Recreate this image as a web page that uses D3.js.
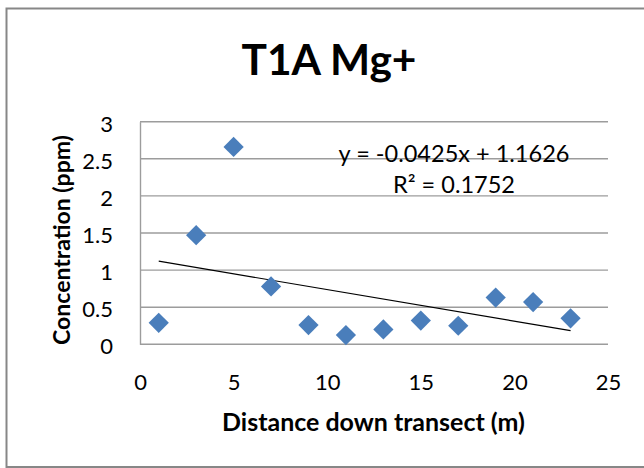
<!DOCTYPE html>
<html>
<head>
<meta charset="utf-8">
<script src="https://cdn.jsdelivr.net/npm/d3@7"></script>
<style>
  html, body { margin: 0; padding: 0; background: #fff; }
  svg { display: block; }
  text { font-family: Lato, "Open Sans", sans-serif; fill: #000; }
</style>
</head>
<body>
<svg id="chart" width="644" height="468"></svg>
<script>
// ---- data ----
const distances = [1, 3, 5, 7, 9, 11, 13, 15, 17, 19, 21, 23];
const concentrations = [0.29, 1.47, 2.66, 0.78, 0.26, 0.125, 0.20, 0.32, 0.25, 0.63, 0.57, 0.35];
const xTicks = [0, 5, 10, 15, 20, 25];
const yTicks = [0, 0.5, 1, 1.5, 2, 2.5, 3];
const trendSlope = -0.0425;
const trendIntercept = 1.1626;
const trendRange = [1, 23];
const titleText = "T1A Mg+";
const xAxisTitle = "Distance down transect (m)";
const yAxisTitle = "Concentration (ppm)";
const equationText = "y = -0.0425x + 1.1626";
const r2Text = "R\u00B2 = 0.1752";

// ---- layout ----
const svg = d3.select("#chart");
const plot = { left: 140, right: 608, top: 121.7, bottom: 344.3 };
const x = d3.scaleLinear().domain([0, 25]).range([plot.left, plot.right]);
const y = d3.scaleLinear().domain([0, 3]).range([plot.bottom, plot.top]);

function fitWidth(sel, target) {
  const node = sel.node();
  const fs = parseFloat(sel.attr("font-size"));
  const w = node.getComputedTextLength();
  sel.attr("font-size", (fs * target / w).toFixed(2));
  return sel;
}

// outer chart border (left, top, bottom visible)
svg.append("path")
  .attr("d", "M660,8.5 H6.5 V467 H660")
  .attr("fill", "none")
  .attr("stroke", "#878787")
  .attr("stroke-width", 2);

// gridlines
svg.append("g")
  .selectAll("line")
  .data(yTicks)
  .join("line")
  .attr("x1", plot.left).attr("x2", plot.right)
  .attr("y1", d => y(d)).attr("y2", d => y(d))
  .attr("stroke", "#9c9c9c")
  .attr("stroke-width", 1.4);

// left axis line
const yAxis = d3.axisLeft(y).tickValues(yTicks).tickSize(0).tickPadding(0)
  .tickFormat(d3.format("~g"));
const gy = svg.append("g").attr("transform", `translate(${plot.left},0)`).call(yAxis);
gy.select(".domain").attr("stroke", "#9c9c9c").attr("stroke-width", 1.4);
gy.selectAll("text")
  .attr("x", 113 - plot.left)
  .attr("dy", "0.36em")
  .attr("transform", "translate(0,1.5)")
  .attr("font-size", 22)
  .attr("font-family", "Lato, sans-serif")
  .attr("fill", "#000")
  .attr("text-anchor", "end");

// x axis labels
const xAxis = d3.axisBottom(x).tickValues(xTicks).tickSize(0).tickPadding(0);
const gx = svg.append("g").attr("transform", `translate(0,${plot.bottom})`).call(xAxis);
gx.select(".domain").remove();
gx.selectAll("text")
  .attr("y", 390 - plot.bottom)
  .attr("dy", 0)
  .attr("font-size", 22)
  .attr("font-family", "Lato, sans-serif")
  .attr("fill", "#000");

// trendline
const line = d3.line().x(d => x(d)).y(d => y(trendSlope * d + trendIntercept));
svg.append("path")
  .datum(trendRange)
  .attr("d", line)
  .attr("fill", "none")
  .attr("stroke", "#000")
  .attr("stroke-width", 1.2);

// diamond markers
const diamond = d3.symbol().type(d3.symbolSquare).size(205);
svg.append("g")
  .selectAll("path")
  .data(distances.map((d, i) => [d, concentrations[i]]))
  .join("path")
  .attr("d", diamond)
  .attr("transform", d => `translate(${x(d[0])},${y(d[1])}) rotate(45)`)
  .attr("fill", "#4a7ebb");

// title
const title = svg.append("text")
  .attr("x", 329).attr("y", 75)
  .attr("text-anchor", "middle")
  .attr("font-weight", "bold")
  .attr("font-size", 44)
  .text(titleText);
fitWidth(title, 175);

// axis titles
const xt = svg.append("text")
  .attr("x", 373.5).attr("y", 431)
  .attr("text-anchor", "middle")
  .attr("font-weight", "bold")
  .attr("font-size", 22)
  .text(xAxisTitle);
fitWidth(xt, 303);

const yt = svg.append("text")
  .attr("transform", "translate(69.5,240) rotate(-90)")
  .attr("text-anchor", "middle")
  .attr("font-weight", "bold")
  .attr("font-size", 22)
  .text(yAxisTitle);
fitWidth(yt, 210);

// trendline label
const eq = svg.append("text")
  .attr("x", 454).attr("y", 161.7)
  .attr("text-anchor", "middle")
  .attr("font-size", 22)
  .text(equationText);
fitWidth(eq, 231);
const r2 = svg.append("text")
  .attr("x", 454).attr("y", 193.3)
  .attr("text-anchor", "middle")
  .attr("font-size", 22)
  .text(r2Text);
fitWidth(r2, 122);
</script>
</body>
</html>
